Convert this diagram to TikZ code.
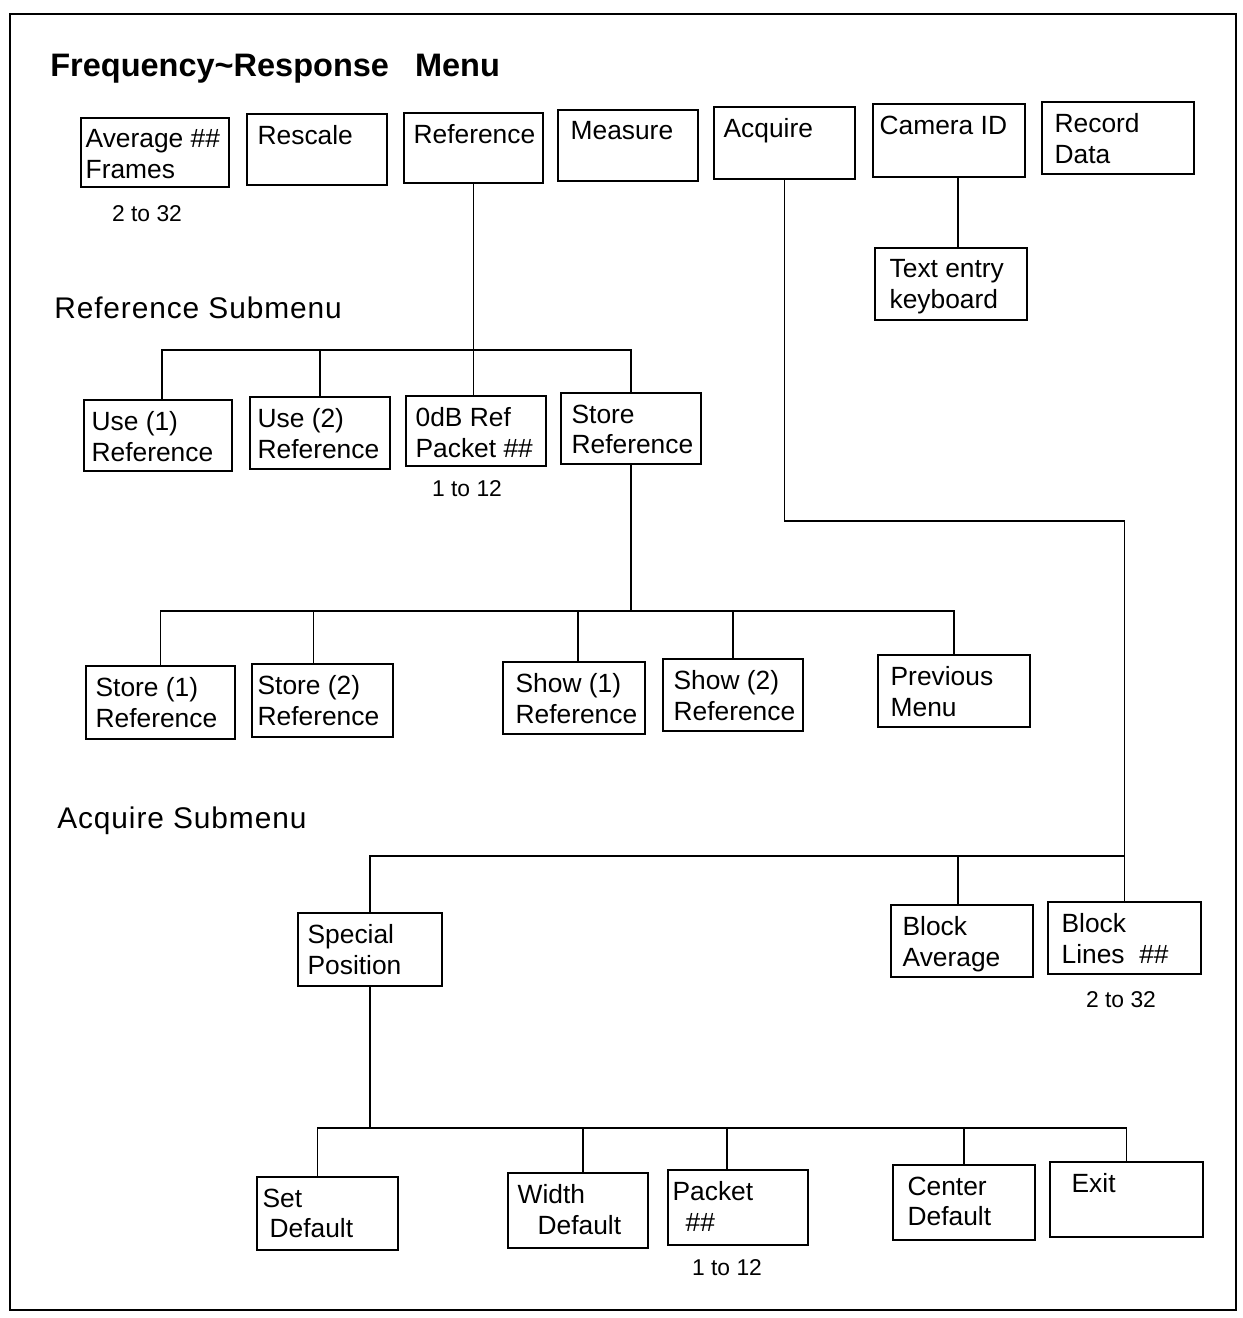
\documentclass[tikz,border=0pt]{standalone}
\usepackage{fontspec}
\setmainfont{Liberation Sans}
\newfontfamily\headfont[LetterSpace=3]{Liberation Sans}
\usetikzlibrary{positioning,fit}

\tikzset{
  menubox/.style={draw, line width=0.8pt, inner sep=0pt},
  itemtext/.style={anchor=north west, align=left, inner sep=0pt, font=\fontsize{15}{17.5}\selectfont},
  link/.style={line width=0.6pt},
  rangelabel/.style={inner sep=0pt, font=\fontsize{13}{15}\selectfont},
  heading/.style={anchor=base west, inner sep=0pt, font=\headfont\fontsize{17}{20}\selectfont},
}

% box from (x1,y1) to (x2,y2), text set in from the top left corner
\newcommand{\menuitem}[7][10]{%
  \node[menubox, fit={(#3,#4) (#5,#6)}] (#2) {};
  \node[itemtext] (#2-text) at ([shift={(#1,12)}]#2.north west) {#7};
}

\begin{document}
\begin{tikzpicture}[x=0.02cm, y=-0.02cm]
    \useasboundingbox (0,0) rectangle (1243,1318);
    \draw[line width=1.1pt] (10,14) rectangle (1236,1310);

    \node[heading, font=\fontsize{18.5}{22}\selectfont\bfseries] (title) at (50,77) {Frequency\textasciitilde Response\hspace{0.52cm}Menu};
    \node[heading] (refhead) at (54,318) {Reference Submenu};
    \node[heading] (acqhead) at (57,828) {Acquire Submenu};

    % main menu
    \menuitem[5]{avg}{81}{118}{229}{187}{Average \#\#\\Frames}
    \menuitem[11]{rescale}{247}{114}{387}{185}{Rescale}
    \menuitem[10]{ref}{404}{113}{543}{183}{Reference}
    \menuitem[13]{measure}{558}{110}{698}{181}{Measure}
    \menuitem[10]{acquire}{714}{107}{855}{179}{Acquire}
    \menuitem[7]{camera}{873}{104}{1025}{177}{Camera ID}
    \menuitem[13]{record}{1042}{102}{1194}{174}{Record\\Data}
    \menuitem[15]{textentry}{875}{248}{1027}{320}{Text entry\\keyboard}
    \node[rangelabel] (avgrange) at (147,214) {2 to 32};

    % reference submenu
    \menuitem[8]{use1}{84}{400}{232}{471}{Use (1)\\Reference}
    \menuitem[8]{use2}{250}{397}{390}{469}{Use (2)\\Reference}
    \menuitem[10]{odb}{406}{396}{546}{466}{0dB Ref\\Packet \#\#}
    \menuitem[11]{storeref}{561}{393}{701}{464}{Store\\Reference}
    \node[rangelabel] (odbrange) at (467,489) {1 to 12};

    \menuitem[10]{store1}{86}{666}{235}{739}{Store (1)\\Reference}
    \menuitem[6]{store2}{252}{664}{393}{737}{Store (2)\\Reference}
    \menuitem[13]{show1}{503}{662}{645}{734}{Show (1)\\Reference}
    \menuitem[11]{show2}{663}{659}{803}{731}{Show (2)\\Reference}
    \menuitem[13]{prevmenu}{878}{655}{1030}{727}{Previous\\Menu}

    % acquire submenu
    \menuitem[10]{special}{298}{913}{442}{986}{Special\\Position}
    \menuitem[12]{blockavg}{891}{905}{1033}{977}{Block\\Average}
    \menuitem[14]{blocklines}{1048}{902}{1201}{974}{Block\\Lines\ \ \#\#}
    \node[rangelabel] (blockrange) at (1121,1000) {2 to 32};

    \menuitem[6]{setdef}{257}{1177}{398}{1250}{Set\\\hspace*{0.14cm}Default}
    \menuitem[10]{widthdef}{508}{1173}{648}{1248}{Width\\\hspace*{0.4cm}Default}
    \menuitem[5]{packet}{668}{1170}{808}{1245}{Packet\\\hspace*{0.26cm}\#\#}
    \menuitem[15]{centerdef}{893}{1165}{1035}{1240}{Center\\Default}
    \menuitem[22]{exit}{1050}{1162}{1203}{1237}{Exit}
    \node[rangelabel] (packetrange) at (727,1268) {1 to 12};

    % connectors
    \coordinate (refbus) at (0,350);
    \coordinate (storebus) at (0,611);
    \coordinate (acqbend) at (0,521);
    \coordinate (acqbus) at (0,856);
    \coordinate (posbus) at (0,1128);

    \draw[link] ([xshift=0.18cm]camera.south) -- ([xshift=0.18cm]camera.south |- textentry.north);

    \draw[link] (ref.south) -- (ref.south |- odb.north);
    \draw[link] ([xshift=0.08cm]use1.north) |- (refbus -| storeref.north) -- (storeref.north);
    \draw[link] (use2.north) -- (use2.north |- refbus);

    \draw[link] (storeref.south) -- (storeref.south |- storebus);
    \draw[link] (store1.north) |- (storebus -| prevmenu.north) -- (prevmenu.north);
    \draw[link] ([xshift=-0.18cm]store2.north) -- ([xshift=-0.18cm]store2.north |- storebus);
    \draw[link] ([xshift=0.08cm]show1.north) -- ([xshift=0.08cm]show1.north |- storebus);
    \draw[link] (show2.north) -- (show2.north |- storebus);

    \draw[link] (acquire.south) |- (acqbend -| blocklines.north) -- (blocklines.north);
    \draw[link] (special.north) |- (acqbus -| blocklines.north);
    \draw[link] ([xshift=-0.08cm]blockavg.north) -- ([xshift=-0.08cm]blockavg.north |- acqbus);

    \draw[link] (special.south) -- (special.south |- posbus);
    \draw[link] ([xshift=-0.2cm]setdef.north) |- (posbus -| exit.north) -- (exit.north);
    \draw[link] ([xshift=0.1cm]widthdef.north) -- ([xshift=0.1cm]widthdef.north |- posbus);
    \draw[link] ([xshift=-0.22cm]packet.north) -- ([xshift=-0.22cm]packet.north |- posbus);
    \draw[link] (centerdef.north) -- (centerdef.north |- posbus);
\end{tikzpicture}
\end{document}
